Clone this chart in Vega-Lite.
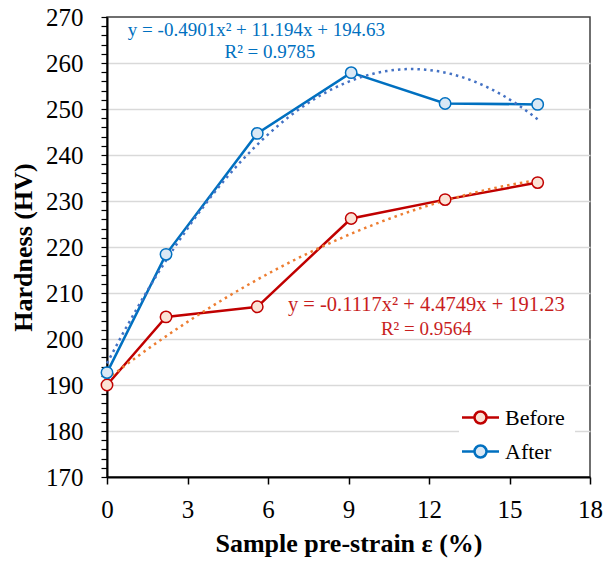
{
  "$schema": "https://vega.github.io/schema/vega-lite/v6.json",
  "width": 483,
  "height": 460,
  "autosize": "none",
  "padding": {"left": 107, "top": 17, "right": 13, "bottom": 85},
  "background": "white",
  "config": {
    "font": "Liberation Serif",
    "view": {"stroke": "#404040", "strokeWidth": 1.5},
    "axis": {"labelFont": "Liberation Serif", "labelFontSize": 25, "titleFont": "Liberation Serif", "titleFontSize": 26, "labelColor": "black", "titleColor": "black"},
    "text": {"font": "Liberation Serif"},
    "legend": {
      "orient": "none",
      "legendX": 352,
      "legendY": 379,
      "fillColor": "white",
      "padding": 10,
      "labelFontSize": 22,
      "labelColor": "black",
      "labelFont": "Liberation Serif",
      "symbolSize": 400,
      "symbolStrokeWidth": 2.5,
      "labelOffset": 13,
      "rowPadding": 11,
      "title": null
    }
  },
  "datasets": {
    "hv": [
      {"series": "Before", "strain": 0, "hardness": 190.0},
      {"series": "Before", "strain": 2.2, "hardness": 204.8},
      {"series": "Before", "strain": 5.6, "hardness": 207.0},
      {"series": "Before", "strain": 9.1, "hardness": 226.2},
      {"series": "Before", "strain": 12.6, "hardness": 230.3},
      {"series": "Before", "strain": 16.05, "hardness": 234.0},
      {"series": "After", "strain": 0, "hardness": 192.7},
      {"series": "After", "strain": 2.2, "hardness": 218.4},
      {"series": "After", "strain": 5.6, "hardness": 244.7},
      {"series": "After", "strain": 9.1, "hardness": 257.9},
      {"series": "After", "strain": 12.6, "hardness": 251.2},
      {"series": "After", "strain": 16.05, "hardness": 251.0}
    ],
    "notes": [
      {"series": "After", "kind": "eq", "strain": 5.57, "hardness": 267.2, "label": "y = -0.4901x² + 11.194x + 194.63"},
      {"series": "After", "kind": "r2", "strain": 6.07, "hardness": 262.5, "label": "R² = 0.9785"},
      {"series": "Before", "kind": "eq", "strain": 11.9, "hardness": 207.5, "label": "y = -0.1117x² + 4.4749x + 191.23"},
      {"series": "Before", "kind": "r2", "strain": 11.9, "hardness": 202.2, "label": "R² = 0.9564"}
    ]
  },
  "encoding": {
    "x": {
      "field": "strain",
      "type": "quantitative",
      "scale": {"domain": [0, 18], "nice": false, "zero": false},
      "axis": {
        "values": [0, 3, 6, 9, 12, 15, 18],
        "grid": false,
        "domainColor": "black",
        "domainWidth": 2,
        "tickColor": "black",
        "tickWidth": 1.5,
        "tickSize": 7,
        "labelFontSize": 25,
        "labelColor": "black",
        "labelPadding": 13,
        "labelFlush": false,
        "labelBound": false,
        "title": "Sample pre-strain ε (%)",
        "titleFontSize": 26,
        "titleFontWeight": "bold",
        "titleColor": "black",
        "titlePadding": 8
      }
    },
    "y": {
      "field": "hardness",
      "type": "quantitative",
      "scale": {"domain": [170, 270], "nice": false, "zero": false},
      "axis": {
        "values": [170,172,174,176,178,180,182,184,186,188,190,192,194,196,198,200,202,204,206,208,210,212,214,216,218,220,222,224,226,228,230,232,234,236,238,240,242,244,246,248,250,252,254,256,258,260,262,264,266,268,270],
        "labelExpr": "datum.value % 10 === 0 ? datum.label : ''",
        "labelOverlap": false,
        "labelFlush": false,
        "labelBound": false,
        "grid": true,
        "gridColor": "#d9d9d9",
        "gridWidth": 1.5,
        "gridOpacity": {"condition": {"test": "datum.value % 10 === 0 && datum.value > 170 && datum.value < 270", "value": 1}, "value": 0},
        "domainColor": "black",
        "domainWidth": 2,
        "tickColor": "black",
        "tickWidth": 1.2,
        "tickSize": 6,
        "labelFontSize": 25,
        "labelColor": "black",
        "labelPadding": 18,
        "title": "Hardness (HV)",
        "titleFontSize": 26,
        "titleFontWeight": "bold",
        "titleColor": "black",
        "titlePadding": 9
      }
    }
  },
  "layer": [
    {
      "data": {"name": "hv"},
      "mark": {"type": "line", "strokeWidth": 2.5},
      "encoding": {
        "stroke": {
          "field": "series",
          "type": "nominal",
          "scale": {"domain": ["Before", "After"], "range": ["#C00000", "#0070C0"]},
          "legend": {"symbolType": "M-1.85,0H-0.6M0.6,0H1.85M-0.6,0A0.6,0.6,0,1,1,0.6,0A0.6,0.6,0,1,1,-0.6,0Z"}
        }
      }
    },
    {
      "data": {"name": "hv"},
      "transform": [
        {"filter": "datum.series === 'Before'"},
        {"regression": "hardness", "on": "strain", "method": "poly", "order": 2, "extent": [0, 16.05]}
      ],
      "mark": {"type": "line", "color": "#ED7D31", "strokeWidth": 2.5, "strokeDash": [2.5, 4]},
      "encoding": {}
    },
    {
      "data": {"name": "hv"},
      "transform": [
        {"filter": "datum.series === 'After'"},
        {"regression": "hardness", "on": "strain", "method": "poly", "order": 2, "extent": [0, 16.05]}
      ],
      "mark": {"type": "line", "color": "#4472C4", "strokeWidth": 2.5, "strokeDash": [2.5, 4]},
      "encoding": {}
    },
    {
      "data": {"name": "hv"},
      "mark": {"type": "point", "shape": "circle", "size": 130, "filled": false, "strokeWidth": 1.5, "opacity": 1},
      "encoding": {
        "stroke": {
          "field": "series",
          "type": "nominal",
          "scale": {"domain": ["Before", "After"], "range": ["#C00000", "#0070C0"]},
          "legend": {"symbolType": "M-1.85,0H-0.6M0.6,0H1.85M-0.6,0A0.6,0.6,0,1,1,0.6,0A0.6,0.6,0,1,1,-0.6,0Z"}
        },
        "fill": {
          "field": "series",
          "type": "nominal",
          "scale": {"domain": ["Before", "After"], "range": ["#FBE3D6", "#DAE8F5"]},
          "legend": {"symbolType": "M-1.85,0H-0.6M0.6,0H1.85M-0.6,0A0.6,0.6,0,1,1,0.6,0A0.6,0.6,0,1,1,-0.6,0Z"}
        }
      }
    },
    {
      "data": {"name": "notes"},
      "transform": [{"filter": "datum.series === 'After'"}],
      "mark": {"type": "text", "fontSize": 19, "color": "#0070C0", "align": "center", "baseline": "middle", "font": "Liberation Serif"},
      "encoding": {"text": {"field": "label", "type": "nominal"}}
    },
    {
      "data": {"name": "notes"},
      "transform": [{"filter": "datum.series === 'Before' && datum.kind === 'eq'"}],
      "mark": {"type": "text", "fontSize": 20.5, "color": "#C81E1E", "align": "center", "baseline": "middle", "font": "Liberation Serif"},
      "encoding": {"text": {"field": "label", "type": "nominal"}}
    },
    {
      "data": {"name": "notes"},
      "transform": [{"filter": "datum.series === 'Before' && datum.kind === 'r2'"}],
      "mark": {"type": "text", "fontSize": 19, "color": "#C81E1E", "align": "center", "baseline": "middle", "font": "Liberation Serif"},
      "encoding": {"text": {"field": "label", "type": "nominal"}}
    }
  ]
}
